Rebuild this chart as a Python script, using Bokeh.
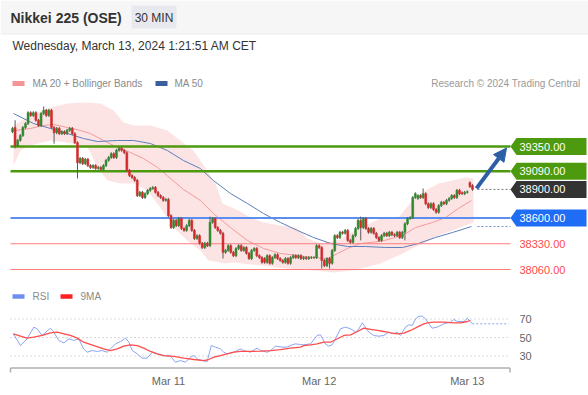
from bokeh.plotting import figure
from bokeh.layouts import column
from bokeh.models import Range1d, FixedTicker, Arrow, NormalHead, ColumnDataSource
from bokeh.core.properties import value
from bokeh.embed import file_html
from bokeh.resources import INLINE

FONT = "Liberation Sans"

# ---------------- texts ----------------
title = "Nikkei 225 (OSE)"
timeframe = "30 MIN"
timestamp = "Wednesday, March 13, 2024 1:21:51 AM CET"
copyright_text = "Research \u00a9 2024 Trading Central"
legend_price = ["MA 20 + Bollinger Bands", "MA 50"]
legend_rsi = ["RSI", "9MA"]

# ---------------- candles (30 min) ----------------
opens = [39505, 39550, 39360, 39415, 39465, 39550, 39590, 39705, 39675, 39705,
         39625, 39570, 39695, 39730, 39675, 39730, 39550, 39495, 39540, 39485,
         39505, 39485, 39520, 39540, 39485, 39390, 39180, 39225, 39170, 39215,
         39150, 39130, 39150, 39120, 39130, 39110, 39150, 39205, 39235, 39275,
         39235, 39310, 39330, 39310, 39285, 39100, 39045, 39025, 38995, 38835,
         38870, 38815, 38855, 38890, 38910, 38920, 38870, 38835, 38815, 38785,
         38795, 38625, 38500, 38575, 38520, 38595, 38490, 38470, 38520, 38575,
         38470, 38385, 38415, 38335, 38290, 38335, 38310, 38555, 38595, 38500,
         38470, 38440, 38240, 38260, 38310, 38240, 38205, 38280, 38310, 38260,
         38290, 38230, 38175, 38260, 38280, 38205, 38185, 38175, 38135, 38205,
         38125, 38185, 38215, 38175, 38155, 38135, 38175, 38125, 38185, 38205,
         38185, 38205, 38175, 38185, 38175, 38185, 38185, 38185, 38310, 38290,
         38155, 38100, 38175, 38125, 38260, 38415, 38395, 38450, 38440, 38470,
         38365, 38345, 38415, 38490, 38575, 38500, 38595, 38490, 38450, 38490,
         38440, 38395, 38365, 38415, 38440, 38415, 38450, 38425, 38415, 38450,
         38395, 38450, 38540, 38595, 38605, 38815, 38805, 38835, 38815, 38855,
         38750, 38710, 38750, 38690, 38660, 38730, 38765, 38750, 38785, 38805,
         38835, 38815, 38890, 38865, 38855, 38870, 38970, 38940]
closes = [39540, 39360, 39415, 39465, 39550, 39590, 39705, 39675, 39705, 39625,
          39570, 39695, 39730, 39675, 39730, 39550, 39495, 39540, 39485, 39505,
          39485, 39520, 39540, 39485, 39390, 39180, 39225, 39170, 39215, 39150,
          39130, 39150, 39120, 39130, 39110, 39150, 39205, 39235, 39275, 39235,
          39310, 39330, 39310, 39285, 39100, 39045, 39025, 38995, 38835, 38870,
          38815, 38855, 38890, 38910, 38920, 38870, 38835, 38815, 38785, 38795,
          38625, 38500, 38575, 38520, 38595, 38490, 38470, 38520, 38575, 38470,
          38385, 38415, 38335, 38290, 38335, 38310, 38555, 38595, 38500, 38470,
          38440, 38240, 38260, 38310, 38240, 38205, 38280, 38310, 38260, 38290,
          38230, 38175, 38260, 38280, 38205, 38185, 38135, 38135, 38205, 38125,
          38185, 38215, 38175, 38155, 38135, 38175, 38125, 38185, 38205, 38185,
          38205, 38175, 38185, 38175, 38185, 38185, 38185, 38310, 38290, 38155,
          38100, 38175, 38125, 38260, 38415, 38395, 38450, 38440, 38470, 38365,
          38345, 38415, 38490, 38575, 38500, 38595, 38490, 38450, 38490, 38440,
          38395, 38365, 38415, 38440, 38415, 38450, 38425, 38415, 38450, 38395,
          38450, 38540, 38595, 38605, 38815, 38855, 38835, 38815, 38855, 38750,
          38710, 38750, 38690, 38660, 38730, 38765, 38750, 38785, 38805, 38835,
          38815, 38890, 38855, 38855, 38870, 38875, 38930, 38900]
highs = [39555, 39625, 39430, 39480, 39565, 39605, 39720, 39720, 39720, 39720,
         39640, 39710, 39770, 39745, 39745, 39745, 39565, 39555, 39555, 39520,
         39520, 39535, 39555, 39555, 39500, 39405, 39240, 39240, 39230, 39230,
         39165, 39165, 39165, 39145, 39145, 39165, 39220, 39250, 39290, 39290,
         39325, 39345, 39345, 39325, 39300, 39115, 39060, 39040, 39010, 38885,
         38885, 38870, 38905, 38925, 38935, 38935, 38885, 38850, 38830, 38810,
         38810, 38640, 38590, 38590, 38610, 38610, 38505, 38535, 38590, 38590,
         38485, 38430, 38430, 38350, 38350, 38350, 38615, 38610, 38610, 38515,
         38485, 38455, 38275, 38325, 38325, 38255, 38295, 38325, 38325, 38305,
         38305, 38245, 38275, 38295, 38295, 38220, 38200, 38190, 38220, 38220,
         38200, 38230, 38230, 38190, 38170, 38190, 38190, 38200, 38220, 38220,
         38220, 38220, 38200, 38200, 38200, 38200, 38200, 38325, 38325, 38305,
         38170, 38190, 38190, 38275, 38430, 38430, 38465, 38465, 38485, 38485,
         38380, 38430, 38505, 38590, 38615, 38610, 38610, 38505, 38505, 38505,
         38455, 38410, 38430, 38455, 38455, 38465, 38465, 38440, 38465, 38465,
         38465, 38555, 38610, 38620, 38830, 38870, 38850, 38850, 38910, 38870,
         38765, 38765, 38765, 38705, 38745, 38780, 38780, 38800, 38820, 38850,
         38850, 38905, 38905, 38880, 38885, 38890, 38985, 38955]
lows = [39490, 39330, 39345, 39400, 39450, 39535, 39575, 39660, 39660, 39610,
        39555, 39555, 39680, 39660, 39660, 39535, 39380, 39480, 39470, 39470,
        39470, 39470, 39505, 39470, 39375, 39015, 39165, 39155, 39155, 39135,
        39115, 39115, 39105, 39105, 39095, 39095, 39135, 39190, 39220, 39220,
        39220, 39295, 39295, 39270, 39085, 39030, 39010, 38980, 38820, 38820,
        38800, 38800, 38840, 38875, 38895, 38855, 38820, 38800, 38770, 38770,
        38610, 38485, 38485, 38505, 38505, 38475, 38455, 38455, 38505, 38455,
        38370, 38370, 38320, 38275, 38275, 38295, 38295, 38540, 38485, 38455,
        38425, 38175, 38225, 38245, 38225, 38190, 38190, 38265, 38245, 38245,
        38215, 38160, 38160, 38245, 38190, 38170, 38120, 38120, 38120, 38110,
        38110, 38170, 38160, 38140, 38120, 38120, 38110, 38110, 38170, 38170,
        38170, 38160, 38160, 38160, 38160, 38170, 38170, 38170, 38275, 38070,
        38085, 38085, 38070, 38110, 38245, 38380, 38380, 38425, 38425, 38350,
        38330, 38330, 38400, 38475, 38365, 38485, 38475, 38435, 38435, 38425,
        38380, 38350, 38350, 38400, 38400, 38400, 38410, 38400, 38400, 38380,
        38380, 38365, 38525, 38580, 38590, 38800, 38790, 38800, 38800, 38735,
        38695, 38695, 38675, 38645, 38645, 38715, 38735, 38735, 38770, 38790,
        38800, 38800, 38840, 38840, 38840, 38855, 38915, 38885]

day_ticks = [60, 118, 175]
day_labels = ["Mar 11", "Mar 12", "Mar 13"]

# ---------------- overlays (sampled along the candle index) ----------------
ma20_idx = [1.2, 6.9, 11.9, 15.8, 21.2, 26.2, 30.0, 35.0, 40.4, 45.4, 50.4, 55.8, 60.8,
            65.8, 72.3, 77.3, 83.9, 90.4, 96.6, 103.1, 109.7, 115.8, 121.2, 125.1,
            128.9, 133.9, 141.6, 150.1, 155.1, 161.6, 166.6, 171.6, 176.6]
ma20_val = [39518, 39539, 39570, 39581, 39549, 39518, 39486, 39413, 39340, 39287, 39224,
            39130, 39014, 38899, 38784, 38647, 38500, 38364, 38280, 38228, 38207, 38186,
            38175, 38228, 38280, 38333, 38354, 38417, 38500, 38553, 38605, 38700, 38784]
ma50_idx = [0.4, 8.1, 14.6, 21.2, 27.3, 32.7, 40.4, 46.6, 53.1, 59.6, 65.8, 72.3, 77.3,
            83.9, 90.4, 96.6, 103.1, 109.7, 115.8, 122.4, 128.9, 135.8, 143.5, 150.1,
            156.2, 162.8, 169.3, 176.6]
ma50_val = [39696, 39591, 39539, 39486, 39434, 39402, 39413, 39413, 39381, 39308, 39203,
            39119, 38993, 38857, 38752, 38647, 38553, 38469, 38396, 38333, 38301, 38301,
            38291, 38291, 38333, 38396, 38448, 38511]
bb_up_idx = [0.4, 6.9, 14.6, 21.2, 27.3, 33.9, 38.9, 42.7, 46.6, 53.1, 59.6, 64.6, 69.6,
             73.1, 78.1, 80.8, 87.0, 91.6, 96.6, 103.1, 109.7, 113.5, 118.5, 125.1, 133.9,
             141.6, 148.5, 153.9, 158.9, 163.9, 169.3, 174.3, 177.4]
bb_up_val = [39570, 39675, 39759, 39801, 39811, 39801, 39728, 39602, 39570, 39570, 39518,
             39413, 39308, 39172, 38962, 38752, 38679, 38605, 38553, 38521, 38490, 38385,
             38333, 38364, 38500, 38595, 38605, 38784, 38889, 38962, 38993, 39025, 39014]
bb_lo_idx = [0.4, 3.1, 6.9, 14.6, 21.2, 28.9, 32.7, 36.6, 41.6, 46.6, 51.9, 56.9, 62.0,
             67.3, 72.3, 75.4, 82.0, 85.0, 95.4, 105.8, 115.8, 123.5, 131.2, 141.6, 148.5,
             153.9, 158.9, 163.9, 169.3, 174.3, 177.4]
bb_lo_val = [39151, 39308, 39360, 39413, 39392, 39340, 39130, 38993, 38962, 38962, 38889,
             38710, 38500, 38364, 38259, 38154, 38123, 38133, 38102, 38070, 38049, 38029,
             38049, 38123, 38207, 38280, 38343, 38417, 38469, 38521, 38553]

# ---------------- key levels ----------------
resistance_levels = [39350, 39090]
pivot_level = 38600
support_levels = [38330, 38060]

# ---------------- RSI panel ----------------
rsi_idx = [0.3, 3.1, 5.6, 8.2, 9.5, 11.4, 14.6, 15.9, 17.8, 19.8,
           21.7, 23.6, 25.5, 27.4, 28.7, 30.7, 32.6, 34.5, 36.4, 37.7,
           39.6, 41.6, 43.5, 44.8, 46.1, 48.0, 49.9, 51.8, 53.8, 55.7,
           58.2, 60.8, 62.7, 64.6, 66.6, 68.5, 69.8, 71.1, 73.0, 74.9,
           76.5, 78.1, 80.0, 81.3, 82.6, 85.2, 87.7, 89.0, 91.6, 94.1,
           95.4, 98.0, 99.3, 101.2, 103.8, 105.7, 107.6, 108.9, 110.8, 112.1,
           114.7, 117.2, 118.5, 120.4, 121.7, 123.0, 124.3, 126.2, 128.1, 130.1,
           132.0, 133.3, 134.6, 135.8, 137.1, 139.0, 141.0, 142.9, 144.8, 146.7,
           148.0, 149.3, 151.2, 152.5, 153.8, 155.1, 156.4, 157.7, 158.9, 160.2,
           161.5, 163.4, 166.0, 168.5, 169.8, 171.1, 173.7, 175.0, 176.2, 176.9]
rsi_val = [53.9, 41.3, 48.6, 61.2, 59.4, 52.2, 60.1, 55.8, 46.8, 44.2,
           48.6, 46.8, 48.6, 37.7, 34.1, 35.9, 34.9, 35.9, 34.1, 37.7,
           43.1, 45.7, 49.3, 44.9, 35.9, 32.3, 27.7, 27.7, 34.1, 32.3,
           30.5, 29.8, 23.3, 25.1, 23.3, 28.7, 30.5, 26.9, 25.1, 24.0,
           41.4, 39.6, 37.7, 34.1, 32.3, 34.1, 37.7, 35.9, 34.1, 38.5,
           35.9, 34.1, 35.9, 40.6, 39.6, 39.6, 42.1, 43.1, 42.4, 42.1,
           43.1, 52.2, 52.9, 43.1, 40.6, 42.1, 48.6, 59.4, 61.2, 59.4,
           55.8, 59.4, 65.9, 61.2, 55.8, 52.2, 51.4, 52.2, 55.8, 54.0,
           55.8, 52.2, 61.2, 63.7, 63.0, 70.2, 73.1, 73.1, 70.2, 64.8,
           60.1, 61.2, 64.8, 66.6, 69.5, 67.3, 67.3, 70.9, 67.3, 64.8]
ma9_idx = [0.3, 3.1, 5.6, 8.2, 11.4, 14.6, 17.2, 19.8, 22.3, 24.9,
           27.4, 31.3, 35.1, 37.7, 40.3, 42.8, 45.4, 48.0, 50.5, 53.1,
           55.7, 58.2, 62.1, 65.9, 69.8, 73.6, 75.5, 77.5, 80.0, 82.6,
           85.2, 87.7, 91.6, 95.4, 99.3, 103.1, 107.0, 110.8, 112.1, 114.7,
           117.2, 119.8, 122.4, 125.0, 127.5, 130.1, 132.7, 135.2, 137.8, 140.4,
           142.9, 145.5, 148.0, 150.6, 153.2, 155.7, 158.3, 159.6, 162.2, 166.0,
           169.8, 172.4, 175.0, 176.2]
ma9_val = [53.9, 51.4, 49.3, 50.4, 52.2, 55.0, 55.8, 54.0, 52.2, 49.3,
           44.9, 41.3, 37.7, 35.9, 37.7, 40.6, 42.1, 41.3, 38.5, 34.9,
           32.3, 30.5, 29.5, 27.7, 26.2, 25.1, 26.2, 28.7, 30.5, 32.3,
           34.1, 34.9, 34.9, 35.2, 35.9, 37.0, 38.5, 39.6, 41.3, 42.1,
           43.1, 44.9, 44.9, 48.6, 52.2, 52.9, 56.5, 60.1, 58.7, 57.6,
           56.5, 55.0, 54.0, 54.7, 57.6, 61.2, 64.8, 65.9, 66.6, 66.6,
           65.9, 65.9, 67.3, 68.4]
rsi_grid = [30, 50, 70]

# ---------------- layout helpers (page pixels) ----------------
W = 588
PPX = 460 / 177.0                  # pixels per candle
def ix(px):                        # page x pixel -> candle index
    return (px - 12) / PPX
X_LO, X_HI = ix(0), ix(W)
PRICE_H = 193
PPP = 1290 / 123.0                 # price per pixel
P_LO, P_HI = 39350 - 139 * PPP, 39350 + 54 * PPP
RSI_H = 88
RPP = 40 / 37.0                    # rsi points per pixel
RSI_LO, RSI_HI = 50 - 36 * RPP, 50 + 52 * RPP
def ry(py):                        # page y pixel (rsi panel) -> rsi value
    return 50 - (py - 337) * RPP

GREEN = "#4e9a0e"
BLUE_LVL = "#5a8ef2"
RED_LVL = "#ff7b7b"
UP_C, DN_C = "#2f8a2f", "#d42a2a"

def base_fig(h, xr, yr, **kw):
    f = figure(frame_width=W, frame_height=h, x_range=xr, y_range=yr,
               output_backend="svg", toolbar_location=None, min_border=0, **kw)
    f.outline_line_color = None
    f.grid.visible = False
    return f

# ================= header =================
hf = base_fig(92, Range1d(0, W), Range1d(92, 0), x_axis_location=None, y_axis_location=None)
hf.quad(left=[0], right=[W], top=[0], bottom=[33], fill_color="#f6f6f6", line_color=None)
hf.segment(x0=[0], x1=[W], y0=[33.5], y1=[33.5], line_color="#ebebeb", line_width=1)
hf.quad(left=[131], right=[176], top=[5], bottom=[28], fill_color="#e8e9ee", line_color=None)
hf.text(x=[10], y=[17], text=[title], text_font=value(FONT), text_font_size="14px",
        text_font_style="bold", text_color="#333333", text_baseline="middle")
hf.text(x=[153.5], y=[17], text=[timeframe], text_font=value(FONT), text_font_size="12px",
        text_color="#333333", text_baseline="middle", text_align="center")
hf.text(x=[12], y=[45], text=[timestamp], text_font=value(FONT), text_font_size="12px",
        text_color="#333333", text_baseline="middle")
hf.rect(x=[18, 161], y=[83, 83], width=12, height=5,
        fill_color=["#f59595", "#3b5e9e"], line_color=None)
hf.text(x=[32, 174], y=[83, 83], text=legend_price, text_font=value(FONT),
        text_font_size="10px", text_color="#8a8a8a", text_baseline="middle")
hf.text(x=[580], y=[83], text=[copyright_text], text_font=value(FONT),
        text_font_size="10px", text_color="#999999", text_baseline="middle", text_align="right")

# ================= price chart =================
pf = base_fig(PRICE_H, Range1d(X_LO, X_HI), Range1d(P_LO, P_HI),
              x_axis_location=None, y_axis_location=None)

pf.patch(x=bb_up_idx + bb_lo_idx[::-1], y=bb_up_val + bb_lo_val[::-1],
         fill_color="#fbd3d3", fill_alpha=0.62, line_color=None)
pf.line(x=ma20_idx, y=ma20_val, line_color="#f29a9a", line_width=1)
pf.line(x=ma50_idx, y=ma50_val, line_color="#5d7fba", line_width=1)

x_l0, x_l1 = ix(10), ix(510)
for lv in resistance_levels:
    pf.segment(x0=[x_l0], x1=[x_l1], y0=[lv], y1=[lv], line_color=GREEN, line_width=2.5)
pf.segment(x0=[x_l0], x1=[x_l1], y0=[pivot_level], y1=[pivot_level],
           line_color=BLUE_LVL, line_width=2)
for lv in support_levels:
    pf.segment(x0=[x_l0], x1=[x_l1], y0=[lv], y1=[lv], line_color=RED_LVL, line_width=1)

n = len(closes)
idx = list(range(n))
last = closes[-1]
pf.segment(x0=[ix(477)], x1=[x_l1], y0=[last], y1=[last], line_color="#777777",
           line_width=1, line_dash="2 2")
pf.segment(x0=[ix(477)], x1=[x_l1], y0=[ma50_val[-1]], y1=[ma50_val[-1]],
           line_color="#6f8fd0", line_width=1, line_dash="2 2")

cols = [UP_C if c >= o else DN_C for o, c in zip(opens, closes)]
src = ColumnDataSource(dict(x=idx, o=opens, h=highs, l=lows, c=closes,
                            top=[max(o, c) for o, c in zip(opens, closes)],
                            bot=[min(o, c) for o, c in zip(opens, closes)], col=cols))
pf.segment(x0="x", x1="x", y0="h", y1="l", line_color="#5a5a5a", line_width=1, source=src)
pf.vbar(x="x", width=0.72, top="top", bottom="bot", fill_color="col", line_color="col",
        line_width=0.6, source=src)

pf.add_layout(Arrow(end=NormalHead(size=13, fill_color="#2d5fa6", line_color="#2d5fa6"),
                    x_start=ix(476), y_start=last + 1 * PPP,
                    x_end=ix(506), y_end=resistance_levels[0] - 1.5 * PPP,
                    line_color="#2d5fa6", line_width=4))

tags = [(resistance_levels[0], GREEN), (resistance_levels[1], GREEN),
        (last, "#333333"), (pivot_level, "#1f6cf5")]
hh = 8.5 * PPP
xs, ys, fc = [], [], []
for lv, col in tags:
    xs.append([ix(510), ix(516), ix(586), ix(586), ix(516)])
    ys.append([lv, lv + hh, lv + hh, lv - hh, lv - hh])
    fc.append(col)
pf.patches(xs=xs, ys=ys, fill_color=fc, line_color=None)
pf.text(x=[ix(519)] * len(tags), y=[t[0] for t in tags],
        text=["%.2f" % t[0] for t in tags], text_font=value(FONT), text_font_size="11px",
        text_color="white", text_baseline="middle")
pf.text(x=[ix(519)] * len(support_levels), y=support_levels,
        text=["%.2f" % v for v in support_levels], text_font=value(FONT),
        text_font_size="11px", text_color="#ff4a4a", text_baseline="middle")

# ================= RSI =================
rf = base_fig(RSI_H, Range1d(X_LO, X_HI), Range1d(RSI_LO, RSI_HI),
              x_axis_location="below", y_axis_location=None)
rf.xaxis.ticker = FixedTicker(ticks=day_ticks)
rf.xaxis.major_label_overrides = dict(zip(day_ticks, day_labels))
rf.xaxis.axis_line_color = None
rf.xaxis.major_tick_line_color = None
rf.xaxis.minor_tick_line_color = None
rf.xaxis.major_tick_out = 0
rf.xaxis.major_tick_in = 0
rf.xaxis.major_label_standoff = 1
rf.xaxis.major_label_text_font = FONT
rf.xaxis.major_label_text_font_size = "11px"
rf.xaxis.major_label_text_color = "#666666"

g0, g1 = ix(10), ix(508)
rf.segment(x0=[g0] * 3, x1=[g1] * 3, y0=rsi_grid, y1=rsi_grid,
           line_color="#b5b5b5", line_width=1, line_dash="1 3")
rf.text(x=[ix(519)] * 3, y=rsi_grid, text=[str(v) for v in rsi_grid], text_font=value(FONT),
        text_font_size="11px", text_color="#666666", text_baseline="middle")

# axis line with end ticks
ax_y, tk_y = ry(367.5), ry(372)
rf.segment(x0=[ix(10), ix(10), ix(509.5)], x1=[ix(509.5), ix(10), ix(509.5)],
           y0=[ax_y, ax_y, ax_y], y1=[ax_y, tk_y, tk_y], line_color="#b0b0b0", line_width=1.5)

rf.line(x=rsi_idx, y=rsi_val, line_color="#8aa5f2", line_width=1)
rf.line(x=ma9_idx, y=ma9_val, line_color="#ff4d4d", line_width=1.3)
rf.segment(x0=[rsi_idx[-1]], x1=[ix(508)], y0=[rsi_val[-1]], y1=[rsi_val[-1]],
           line_color="#8aa5f2", line_width=1, line_dash="2 2")

leg_y = ry(296)
rf.rect(x=[ix(18), ix(66)], y=[leg_y, leg_y], width=12, height=4.5,
        width_units="screen", height_units="screen",
        fill_color=["#6f8ff0", "#ff2020"], line_color=None)
rf.text(x=[ix(32), ix(80)], y=[leg_y, leg_y], text=legend_rsi, text_font=value(FONT),
        text_font_size="10px", text_color="#8a8a8a", text_baseline="middle")

layout = column(hf, pf, rf)
open("out.html", "w").write(file_html(layout, INLINE))
